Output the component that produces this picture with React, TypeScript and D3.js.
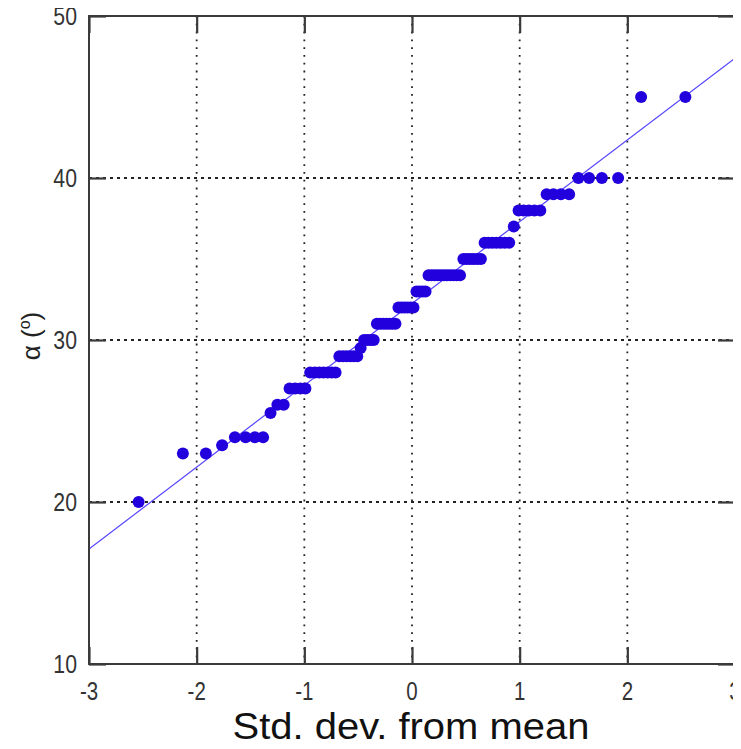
import React, { useEffect, useRef } from "react";
import * as d3 from "d3";

// sorted sample values (alpha in degrees), one entry per point
const alphaValues = [
  20,
  23, 23,
  23.5,
  24, 24, 24, 24,
  25.5,
  26, 26,
  27, 27, 27, 27,
  28, 28, 28, 28, 28, 28, 28,
  29, 29, 29, 29, 29, 29,
  29.5,
  30, 30, 30, 30,
  31, 31, 31, 31, 31, 31, 31,
  32, 32, 32, 32, 32, 32,
  33, 33, 33, 33,
  34, 34, 34, 34, 34, 34, 34, 34, 34, 34, 34,
  35, 35, 35, 35, 35, 35,
  36, 36, 36, 36, 36, 36, 36,
  37,
  38, 38, 38, 38, 38,
  39, 39, 39, 39,
  40, 40, 40, 40,
  45, 45,
];

// reference line endpoints (std dev, alpha)
const fitX = [-3, 3];
const fitY = [17.1, 47.4];

const xTicks = [-3, -2, -1, 0, 1, 2, 3];
const yTicks = [10, 20, 30, 40, 50];

// inverse normal cdf (Acklam) for probability plot positions
function normInv(p: number) {
  const a = [-39.6968302866538, 220.946098424521, -275.928510446969, 138.357751867269, -30.6647980661472, 2.50662827745924];
  const b = [-54.4760987982241, 161.585836858041, -155.698979859887, 66.8013118877197, -13.2806815528857];
  const c = [-0.00778489400243029, -0.322396458041136, -2.40075827716184, -2.54973253934373, 4.37466414146497, 2.93816398269878];
  const d = [0.00778469570904146, 0.32246712907004, 2.445134137143, 3.75440866190742];
  const pl = 0.02425;
  let q, r;
  if (p < pl) {
    q = Math.sqrt(-2 * Math.log(p));
    return (((((c[0] * q + c[1]) * q + c[2]) * q + c[3]) * q + c[4]) * q + c[5]) / ((((d[0] * q + d[1]) * q + d[2]) * q + d[3]) * q + 1);
  }
  if (p > 1 - pl) {
    q = Math.sqrt(-2 * Math.log(1 - p));
    return -(((((c[0] * q + c[1]) * q + c[2]) * q + c[3]) * q + c[4]) * q + c[5]) / ((((d[0] * q + d[1]) * q + d[2]) * q + d[3]) * q + 1);
  }
  q = p - 0.5;
  r = q * q;
  return ((((((a[0] * r + a[1]) * r + a[2]) * r + a[3]) * r + a[4]) * r + a[5]) * q) / (((((b[0] * r + b[1]) * r + b[2]) * r + b[3]) * r + b[4]) * r + 1);
}

export default function App() {
  const svgRef = useRef<SVGSVGElement>(null);

  useEffect(() => {
    const svg = d3.select(svgRef.current);
    svg.selectAll("*").remove();

    const width = 741;
    const height = 749;
    const margin = { top: 16, right: 6, bottom: 85, left: 89 };
    const w = width - margin.left - margin.right;
    const h = height - margin.top - margin.bottom;
    const font = "'Liberation Sans', Arial, sans-serif";
    const axisColor = "#3a3a3a";
    const tickLen = 17;

    const x = d3.scaleLinear().domain([-3, 3]).range([0, w]);
    const y = d3.scaleLinear().domain([10, 50]).range([h, 0]);

    const n = alphaValues.length;
    const points = alphaValues.map((v, i) => ({ z: normInv((i + 0.5) / n), v }));

    const g = svg.append("g").attr("transform", `translate(${margin.left},${margin.top})`);

    // grid
    g.append("g")
      .selectAll("line")
      .data(xTicks.slice(1, -1))
      .join("line")
      .attr("x1", (d) => x(d))
      .attr("x2", (d) => x(d))
      .attr("y1", 0)
      .attr("y2", h)
      .attr("stroke", "#222")
      .attr("stroke-width", 1.8)
      .attr("stroke-dasharray", "1.8,6");
    g.append("g")
      .selectAll("line")
      .data(yTicks.slice(1, -1))
      .join("line")
      .attr("x1", 0)
      .attr("x2", w)
      .attr("y1", (d) => y(d))
      .attr("y2", (d) => y(d))
      .attr("stroke", "#222")
      .attr("stroke-width", 1.8)
      .attr("stroke-dasharray", "3,4");

    // fit line
    const clip = g.append("clipPath").attr("id", "plotclip");
    clip.append("rect").attr("width", w).attr("height", h);
    g.append("line")
      .attr("clip-path", "url(#plotclip)")
      .attr("x1", x(fitX[0]))
      .attr("y1", y(fitY[0]))
      .attr("x2", x(fitX[1]))
      .attr("y2", y(fitY[1]))
      .attr("stroke", "#5544ff")
      .attr("stroke-width", 1.2);

    // points
    g.append("g")
      .selectAll("circle")
      .data(points)
      .join("circle")
      .attr("cx", (d) => x(d.z))
      .attr("cy", (d) => y(d.v))
      .attr("r", 6)
      .attr("fill", "#2200dd");

    // axes (inward ticks on all four sides)
    const styleAxis = (sel: any) => {
      sel.select(".domain").remove();
      sel.selectAll(".tick line").attr("stroke", axisColor).attr("stroke-width", 2.2);
      sel.selectAll(".tick text").remove();
    };
    g.append("g").attr("transform", `translate(0,${h})`)
      .call(d3.axisBottom(x).tickValues(xTicks).tickSize(-tickLen)).call(styleAxis);
    g.append("g")
      .call(d3.axisTop(x).tickValues(xTicks).tickSize(-tickLen)).call(styleAxis);
    g.append("g")
      .call(d3.axisLeft(y).tickValues(yTicks).tickSize(-tickLen)).call(styleAxis);
    g.append("g").attr("transform", `translate(${w},0)`)
      .call(d3.axisRight(y).tickValues(yTicks).tickSize(-tickLen)).call(styleAxis);

    g.append("rect")
      .attr("width", w)
      .attr("height", h)
      .attr("fill", "none")
      .attr("stroke", axisColor)
      .attr("stroke-width", 2);

    // tick labels
    g.append("g")
      .selectAll("text")
      .data(xTicks)
      .join("text")
      .attr("transform", (d) => `translate(${x(d)},${h + 36}) scale(0.82,1)`)
      .attr("text-anchor", "middle")
      .attr("font-family", font)
      .attr("font-size", 25)
      .attr("fill", "#333")
      .text((d) => String(d));
    g.append("g")
      .selectAll("text")
      .data(yTicks)
      .join("text")
      .attr("transform", (d) => `translate(-12,${y(d) + 9}) scale(0.85,1)`)
      .attr("text-anchor", "end")
      .attr("font-family", font)
      .attr("font-size", 25)
      .attr("fill", "#333")
      .text((d) => String(d));

    // x axis title
    svg.append("text")
      .attr("x", 411)
      .attr("y", 739)
      .attr("text-anchor", "middle")
      .attr("font-family", font)
      .attr("font-size", 36)
      .attr("fill", "#111")
      .attr("textLength", 357)
      .attr("lengthAdjust", "spacingAndGlyphs")
      .text("Std. dev. from mean");

    // y axis title: alpha (deg)
    const yl = svg.append("text")
      .attr("transform", "translate(40,336) rotate(-90)")
      .attr("text-anchor", "middle")
      .attr("font-family", font)
      .attr("font-size", 26)
      .attr("fill", "#222");
    yl.append("tspan").text("α (");
    yl.append("tspan").attr("dy", -10).attr("font-size", 16).text("o");
    yl.append("tspan").attr("dy", 10).text(")");
  }, []);

  return (
    <div style={{ margin: -8 }}>
      <svg ref={svgRef} width={741} height={749} style={{ display: "block", background: "#fff" }} />
    </div>
  );
}
